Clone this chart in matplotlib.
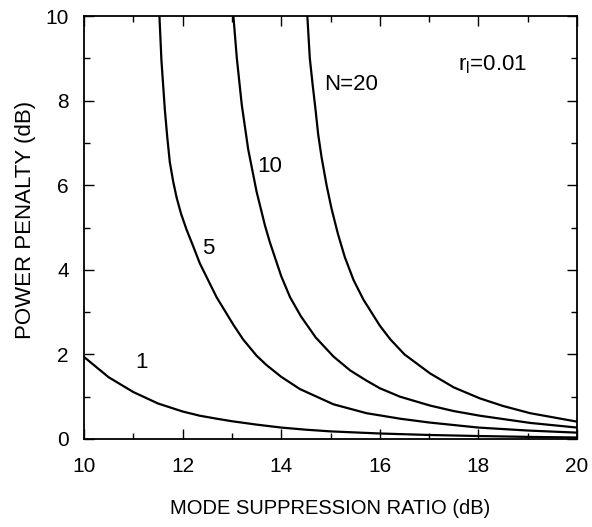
import matplotlib
matplotlib.use("Agg")
import matplotlib.pyplot as plt
from matplotlib.ticker import MultipleLocator

plt.rcParams['font.family'] = ['Liberation Sans', 'DejaVu Sans']

# Mode suppression ratio (dB) and power penalty (dB)
msr_n1 = [10.0, 10.5, 11.0, 11.5, 12.0, 12.35, 12.69, 13.0, 13.5, 14.0, 14.5, 15.0, 16.0, 17.0, 18.0, 19.0, 20.0]
pen_n1 = [1.94, 1.46, 1.11, 0.84, 0.65, 0.55, 0.48, 0.42, 0.34, 0.27, 0.22, 0.18, 0.13, 0.095, 0.07, 0.05, 0.035]

msr_n5 = [11.53, 11.57, 11.64, 11.69, 11.74, 11.81, 11.88, 11.97, 12.08, 12.2, 12.35, 12.69, 13.03, 13.23, 13.5,
          13.7, 14.0, 14.38, 15.06, 15.73, 16.41, 17.0, 18.0, 19.0, 20.0]
pen_n5 = [10.0, 8.96, 7.78, 7.12, 6.55, 6.08, 5.7, 5.32, 4.95, 4.6, 4.15, 3.35, 2.7, 2.35, 1.97,
          1.75, 1.47, 1.18, 0.82, 0.61, 0.48, 0.39, 0.27, 0.20, 0.15]

msr_n10 = [13.03, 13.10, 13.2, 13.33, 13.5, 13.67, 13.77, 14.0, 14.18, 14.4, 14.7, 15.06,
           15.4, 15.73, 16.0, 16.41, 17.02, 17.5, 18.03, 19.05, 20.0]
pen_n10 = [10.0, 9.0, 7.9, 6.85, 5.85, 5.05, 4.65, 3.85, 3.35, 2.9, 2.4, 1.95,
           1.62, 1.38, 1.2, 1.0, 0.79, 0.66, 0.55, 0.38, 0.27]

msr_n20 = [14.53, 14.58, 14.64, 14.69, 14.75, 14.82, 14.92, 15.02, 15.15, 15.29, 15.47, 15.67, 16.0, 16.21,
           16.5, 17.02, 17.5, 18.03, 18.5, 19.05, 20.0]
pen_n20 = [10.0, 9.0, 8.35, 7.85, 7.2, 6.65, 6.0, 5.45, 4.85, 4.3, 3.75, 3.29, 2.68, 2.36,
           2.0, 1.55, 1.22, 0.96, 0.78, 0.61, 0.41]

series = [(msr_n1, pen_n1), (msr_n5, pen_n5), (msr_n10, pen_n10), (msr_n20, pen_n20)]

curve_labels = ["1", "5", "10", "N=20"]
label_pos = [(11.17, 1.8), (12.52, 4.5), (13.77, 6.44), (15.42, 8.37)]

fig = plt.figure(figsize=(5.92, 5.27), dpi=100)
ax = fig.add_axes([0.1419, 0.167, 0.8328, 0.8026])

for x, y in series:
    ax.plot(x, y, color='black', lw=1.6, solid_joinstyle='round', solid_capstyle='butt')

for lab, (lx, ly) in zip(curve_labels, label_pos):
    ax.text(lx, ly, lab, fontsize=16, ha='center', va='center')

ax.text(17.58, 8.84, r"r$_\mathregular{l}$=0.01", fontsize=16, ha='left', va='center')

ax.set_xlim(10, 20)
ax.set_ylim(0, 10)
ax.xaxis.set_major_locator(MultipleLocator(2))
ax.xaxis.set_minor_locator(MultipleLocator(1))
ax.yaxis.set_major_locator(MultipleLocator(2))
ax.yaxis.set_minor_locator(MultipleLocator(1))
ax.tick_params(which='both', direction='in', top=True, right=True, labelsize=15, width=1)
ax.tick_params(which='major', length=7)
ax.tick_params(which='minor', length=4)
ax.tick_params(axis='x', which='major', pad=13)
ax.tick_params(axis='y', which='major', pad=11)
for s in ax.spines.values():
    s.set_linewidth(1.3)

ax.set_xlabel("MODE SUPPRESSION RATIO (dB)", fontsize=14.5)
ax.set_ylabel("POWER PENALTY (dB)", fontsize=16)
ax.xaxis.set_label_coords(0.5, -0.142)
ax.yaxis.set_label_coords(-0.097, 0.518)

fig.savefig("out.png", dpi=100)
